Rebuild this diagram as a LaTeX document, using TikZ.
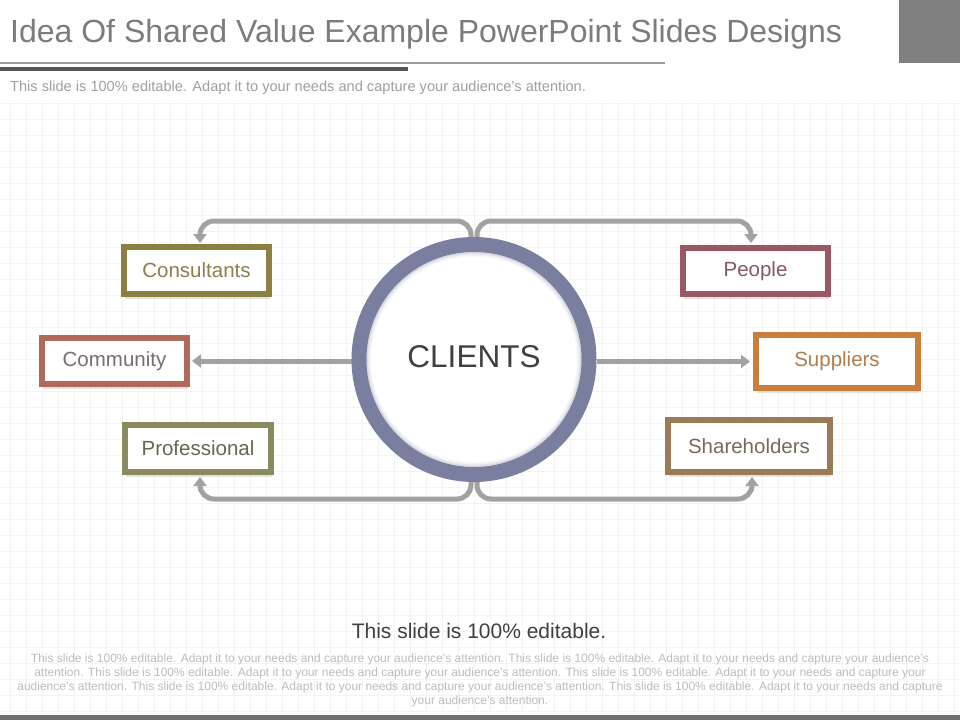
\documentclass[tikz,border=0pt]{standalone}
\usepackage{fontspec}
\setmainfont{Liberation Sans}
\usetikzlibrary{arrows.meta,calc,shadows}
\pgfdeclarelayer{bg}
\pgfdeclarelayer{links}
\pgfsetlayers{bg,links,main}
\definecolor{gridc}{HTML}{F3F3F3}
\definecolor{titlec}{HTML}{7C7C7C}
\definecolor{subc}{HTML}{A0A0A0}
\definecolor{sqc}{HTML}{808080}
\definecolor{lightline}{HTML}{9C9C9C}
\definecolor{darkline}{HTML}{555555}
\definecolor{ringc}{HTML}{7B7F9F}
\definecolor{ringsh}{HTML}{8A8CA0}
\definecolor{connc}{HTML}{A2A2A2}
\definecolor{consB}{HTML}{8C8041}
\definecolor{consT}{HTML}{8A8050}
\definecolor{commB}{HTML}{B0695A}
\definecolor{commT}{HTML}{7A6E6E}
\definecolor{profB}{HTML}{8A8A60}
\definecolor{profT}{HTML}{666658}
\definecolor{peopB}{HTML}{9A5866}
\definecolor{peopT}{HTML}{84586A}
\definecolor{suppB}{HTML}{C87F3C}
\definecolor{suppT}{HTML}{B07E4E}
\definecolor{shareB}{HTML}{9A7B56}
\definecolor{shareT}{HTML}{786A5C}
\definecolor{headc}{HTML}{404040}
\definecolor{parac}{HTML}{BDBDBD}
\definecolor{barc}{HTML}{707070}
\begin{document}
\begin{tikzpicture}[x=1pt,y=-1pt,
  labelbox/.style={draw=#1, line width=6pt, fill=white, inner sep=0pt,
    font=\fontsize{20.5}{24}\selectfont,
    drop shadow={opacity=0.22, shadow xshift=1.2pt, shadow yshift=-4.5pt}},
  conn/.style={draw=connc, line width=5pt, rounded corners=14pt,
    -{Triangle[width=13pt,length=9pt]}}]
\useasboundingbox (0,0) rectangle (960,720);
\begin{pgfonlayer}{bg}
\fill[white] (0,0) rectangle (960,720);
\foreach \gx in {10,26,...,960} \draw[gridc, line width=0.7pt] (\gx,100) -- (\gx,714);
\foreach \gy in {103,119,...,714} \draw[gridc, line width=0.7pt] (0,\gy) -- (960,\gy);
\end{pgfonlayer}

% header
\node[anchor=base west, inner sep=0pt, text=titlec, font=\fontsize{32}{36}\selectfont] (title) at (10,42) {Idea Of Shared Value Example PowerPoint Slides Designs};
\fill[sqc] (899,0) rectangle (960,63);
\fill[lightline] (0,62) rectangle (665,64);
\fill[darkline] (0,67) rectangle (408,71);
\node[anchor=base west, inner sep=0pt, text=subc, font=\fontsize{14.6}{17}\selectfont] (sub) at (10,91) {This slide is 100\% editable. Adapt it to your needs and capture your audience's attention.};

% centre
\node[circle, draw=ringc, line width=15pt, minimum size=230pt, inner sep=0pt, fill=white,
  text=headc, font=\fontsize{31.5}{36}\selectfont] (clients) at (474,359.5) {\raisebox{6pt}{CLIENTS}};
\foreach \rr/\op in {106.8/0.30,105.6/0.18,104.4/0.09,103.2/0.04}
  \draw[ringsh, line width=1.3pt, opacity=\op] (clients.center) circle[radius=\rr];

% boxes
\node[labelbox=consB, text=consT, minimum width=145pt, minimum height=47pt] (cons) at (196.5,270.5) {Consultants};
\node[labelbox=commB, text=commT, minimum width=145pt, minimum height=46pt] (comm) at (114.5,361) {Community};
\node[labelbox=profB, text=profT, minimum width=146pt, minimum height=47pt] (prof) at (198,448.5) {Professional};
\node[labelbox=peopB, text=peopT, minimum width=145pt, minimum height=46pt] (peop) at (755.5,271) {People};
\node[labelbox=suppB, text=suppT, minimum width=162pt, minimum height=53pt] (supp) at (837,361.5) {Suppliers};
\node[labelbox=shareB, text=shareT, minimum width=162pt, minimum height=52pt] (share) at (749,446) {Shareholders};

% connectors
\begin{pgfonlayer}{links}
\draw[conn, shorten >=1pt] ([xshift=-3pt]clients.north) -- ++(0,-16) -| ([xshift=3.5pt]cons.north);
\draw[conn, shorten >=2pt] ([xshift=3pt]clients.north) -- ++(0,-16) -| ([xshift=-4.5pt]peop.north);
\draw[conn, shorten >=2pt] ([xshift=-3pt]clients.south) -- ++(0,17) -| ([xshift=2pt]prof.south);
\draw[conn, shorten >=2pt] ([xshift=3pt]clients.south) -- ++(0,17) -| ([xshift=3pt]share.south);
\draw[conn, shorten >=2pt] (comm.east -| clients.west) -- (comm.east);
\draw[conn, shorten >=3pt] (supp.west -| clients.east) -- (supp.west);
\end{pgfonlayer}

% footer
\node[anchor=base, inner sep=0pt, text=headc, font=\fontsize{21}{25}\selectfont] (head) at (479,638) {This slide is 100\% editable.};
\node[anchor=north, inner sep=0pt, align=center, text=parac, font=\fontsize{12}{14}\selectfont] (para) at (480,653.5) {This slide is 100\% editable. Adapt it to your needs and capture your audience's attention. This slide is 100\% editable. Adapt it to your needs and capture your audience's\\
attention. This slide is 100\% editable. Adapt it to your needs and capture your audience's attention. This slide is 100\% editable. Adapt it to your needs and capture your\\
audience's attention. This slide is 100\% editable. Adapt it to your needs and capture your audience's attention. This slide is 100\% editable. Adapt it to your needs and capture\\
your audience's attention.};
\fill[barc] (0,715) rectangle (960,720);
\end{tikzpicture}
\end{document}
